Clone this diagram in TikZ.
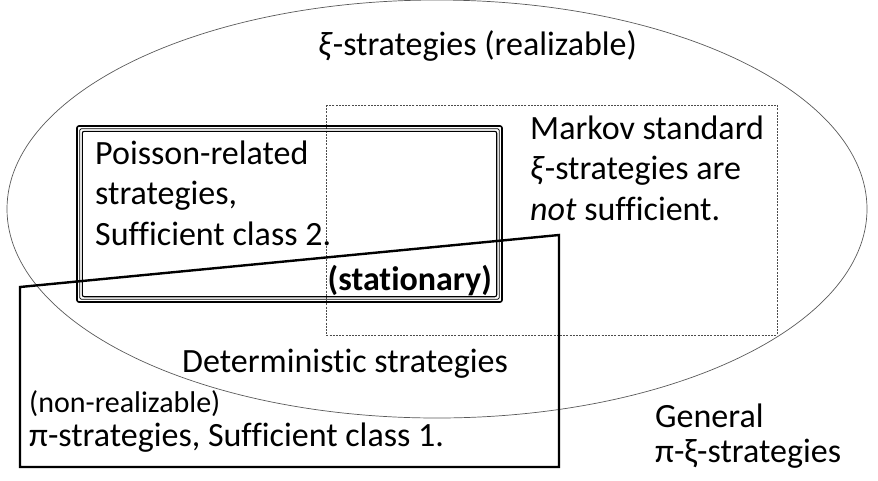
\documentclass[tikz,border=0pt]{standalone}
\usepackage{fontspec}
\setmainfont[Ligatures=NoCommon]{Carlito}
\begin{document}
\begin{tikzpicture}[x=1pt,y=-1pt,
  lbl/.style={anchor=base west,inner sep=0pt,font=\fontsize{34}{40.5}\selectfont,align=left},
  small/.style={anchor=base west,inner sep=0pt,font=\fontsize{30}{34}\selectfont},
  ell/.style={draw=black!65,line width=0.7pt},
  dotbox/.style={draw=black!70,line width=0.6pt,dash pattern=on 2pt off 1.2pt},
  pibox/.style={draw=black,line width=2.4pt,line join=miter},
  tri/.style={draw=black,rounded corners=2pt}]
\useasboundingbox (0,0) rectangle (878,480);
% ellipse
\draw[ell] (437,209) ellipse [x radius=430, y radius=209];
% dotted rectangle
\draw[dotbox] (326,105) rectangle (777,335);
% triple rectangle
\draw[tri,line width=1.6pt] (77,126) rectangle (502,302);
\draw[tri,line width=0.8pt] (79.7,128.7) rectangle (499.3,299.3);
\draw[tri,line width=1.1pt] (82.3,131.3) rectangle (496.7,296.7);
% pi box
\draw[pibox] (20,287) -- (559,235) -- (559,467) -- (20,467) -- cycle;
% texts
\node[lbl] (xi) at (318,55) {\textit{ξ}-strategies (realizable)};
\node[lbl] (markov) at (530,220) {Markov standard\\\textit{ξ}-strategies are\\\emph{not} sufficient.};
\node[lbl] (poisson) at (95,245) {Poisson-related\\strategies,\\Sufficient class 2.};
\node[lbl,anchor=base east,font=\fontsize{34}{40.5}\selectfont\bfseries] (stat) at (492,290) {(stationary)};
\node[lbl] (det) at (182,372) {Deterministic strategies};
\node[small] (nonr) at (29,412) {(non-realizable)};
\node[lbl] (pi) at (29,446) {π-strategies, Sufficient class 1.};
\node[lbl] (gen) at (655,427) {General};
\node[lbl] (pixi) at (655,462) {π-ξ-strategies};
\end{tikzpicture}
\end{document}
